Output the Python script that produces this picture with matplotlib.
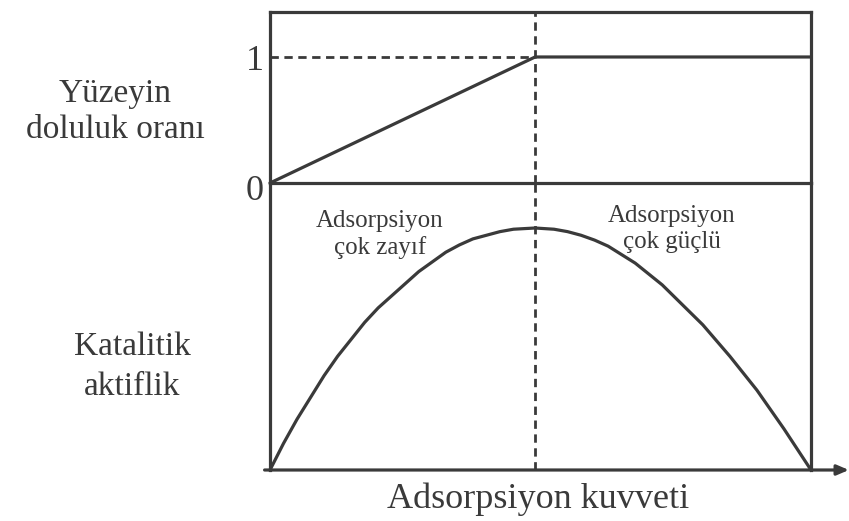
import matplotlib
matplotlib.use("Agg")
import matplotlib.pyplot as plt

plt.rcParams['font.family'] = ['Liberation Serif', 'DejaVu Serif']

# adsorption strength, scaled 0..1 across the box
optimum = 0.49

# top panel: surface coverage
coverage_x = [0.0, optimum, 1.0]
coverage_y = [0.0, 1.0, 1.0]

# bottom panel: catalytic activity (volcano curve, peak = 1)
activity_x = [0.000, 0.025, 0.050, 0.075, 0.100, 0.125, 0.150, 0.175, 0.200, 0.225,
              0.250, 0.275, 0.300, 0.325, 0.350, 0.375, 0.400, 0.425, 0.450, 0.490,
              0.525, 0.550, 0.575, 0.600, 0.625, 0.650, 0.675, 0.700, 0.725, 0.750,
              0.775, 0.800, 0.825, 0.850, 0.875, 0.900, 0.925, 0.950, 0.975, 1.000]
activity_y = [0.000, 0.110, 0.210, 0.300, 0.390, 0.470, 0.540, 0.610, 0.670, 0.720,
              0.770, 0.820, 0.860, 0.900, 0.930, 0.955, 0.970, 0.985, 0.995, 1.000,
              0.995, 0.985, 0.970, 0.950, 0.925, 0.890, 0.855, 0.810, 0.765, 0.710,
              0.655, 0.600, 0.535, 0.470, 0.400, 0.330, 0.250, 0.170, 0.085, 0.000]

ink = '#3a3a3a'
lw = 2.3
dash = (0, (3, 2))

fig = plt.figure(figsize=(8.49, 5.21), dpi=100)
fig.patch.set_facecolor('white')

W, H = 849.0, 521.0
x0, x1 = 270 / W, 811 / W
ax_top = fig.add_axes([x0, 1 - 183 / H, x1 - x0, (183 - 12) / H])
ax_bot = fig.add_axes([x0, 1 - 470 / H, x1 - x0, (470 - 183) / H])

for ax in (ax_top, ax_bot):
    ax.set_xlim(0, 1)
    ax.set_xticks([])
    ax.set_yticks([])
    ax.patch.set_alpha(0)
    for s in ax.spines.values():
        s.set_color(ink)
        s.set_linewidth(lw)

ax_top.set_ylim(0, 1.357)
ax_bot.set_ylim(0, 1.186)
ax_bot.spines['top'].set_visible(False)
ax_bot.spines['bottom'].set_visible(False)

# coverage line and guides
ax_top.plot(coverage_x, coverage_y, color=ink, lw=lw, solid_capstyle='round', clip_on=False)
ax_top.plot([0, optimum], [1, 1], color=ink, lw=2, ls=dash)
for ax in (ax_top, ax_bot):
    ax.axvline(optimum, color=ink, lw=2, ls=dash)

# activity curve
ax_bot.plot(activity_x, activity_y, color=ink, lw=lw, clip_on=False)

# x axis with arrow
ax_bot.annotate('', xy=(1.07, 0), xytext=(-0.01, 0), xycoords='axes fraction',
                arrowprops=dict(arrowstyle='-|>,head_length=0.7,head_width=0.3',
                                color=ink, lw=lw, shrinkA=0, shrinkB=0))


def px(x, y):
    return x / W, 1 - y / H


def label(x, baselines, lines, size, ha='center'):
    for y, s in zip(baselines, lines):
        fig.text(*px(x, y), s, ha=ha, va='baseline', fontsize=size, color=ink)


# tick labels of the coverage axis
label(264, [70], ['1'], 26, ha='right')
label(264, [200], ['0'], 26, ha='right')

label(115, [102, 138], ['Yüzeyin', 'doluluk oranı'], 24)
label(132, [355, 395], ['Katalitik', 'aktiflik'], 24)
label(380, [227, 254], ['Adsorpsiyon', 'çok zayıf'], 18)
label(672, [222, 248], ['Adsorpsiyon', 'çok güçlü'], 18)
label(538, [508], ['Adsorpsiyon kuvveti'], 26)

fig.savefig('out.png', dpi=100, facecolor='white')
